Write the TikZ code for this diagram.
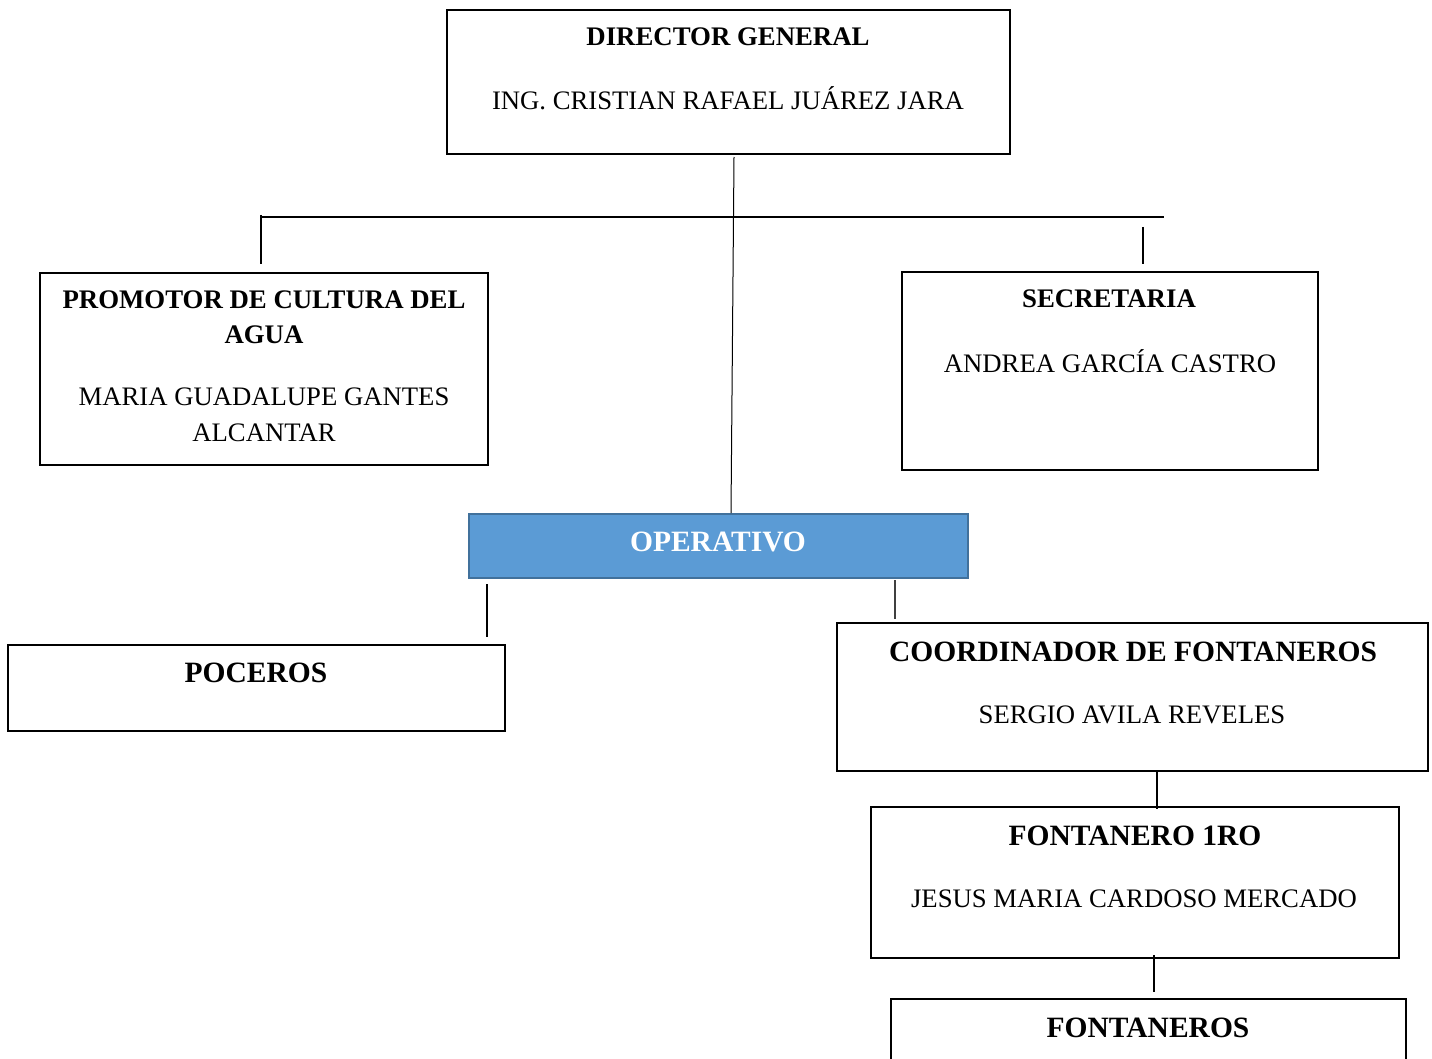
\documentclass[tikz,border=0pt]{standalone}
\usepackage{fontspec}
\setmainfont{Liberation Serif}
\begin{document}
\begin{tikzpicture}[x=1pt,y=-1pt,
  box/.style={draw=black, line width=1.8pt, rectangle, inner sep=0pt},
  opbox/.style={draw=opborder, fill=opfill, line width=2pt, rectangle, inner sep=0pt},
  conn/.style={draw=black, line width=1.6pt},
  ttl/.style={font=\bfseries\fontsize{26.8}{32}\selectfont, inner sep=0pt, align=center},
  bigttl/.style={font=\bfseries\fontsize{29.5}{35}\selectfont, inner sep=0pt, align=center},
  nm/.style={font=\fontsize{26.7}{35}\selectfont, inner sep=0pt, align=center}]
\definecolor{opfill}{HTML}{5B9BD5}
\definecolor{opborder}{HTML}{41719C}
\useasboundingbox (0,0) rectangle (1432,1059);
\clip (0,0) rectangle (1432,1059);

% boxes
\node[box, minimum width=563pt, minimum height=144pt] (dir) at (728.5,82) {};
\node[box, minimum width=448pt, minimum height=192pt] (prom) at (264,369) {};
\node[box, minimum width=416pt, minimum height=198pt] (sec) at (1110,371) {};
\node[opbox, minimum width=499pt, minimum height=64pt] (op) at (718.5,546) {};
\node[box, minimum width=497pt, minimum height=86pt] (poc) at (256.5,688) {};
\node[box, minimum width=591pt, minimum height=148pt] (coord) at (1132.5,697) {};
\node[box, minimum width=528pt, minimum height=151pt] (f1) at (1135,882.5) {};
\draw[line width=1.8pt] (891,1065) -- (891,999) -- (1406,999) -- (1406,1065);
\coordinate (fonttop) at (1148.5,999);

% texts
\node[ttl] (tdir) at (728,37) {DIRECTOR GENERAL};
\node[nm] (ndir) at (728,98) {ING. CRISTIAN RAFAEL JUÁREZ JARA};
\node[ttl] (tprom) at (264,300) {PROMOTOR DE CULTURA DEL};
\node[ttl] (tprom2) at (264,335) {AGUA};
\node[nm] (nprom) at (264,397) {MARIA GUADALUPE GANTES};
\node[nm] (nprom2) at (264,433) {ALCANTAR};
\node[ttl] (tsec) at (1109,299) {SECRETARIA};
\node[nm] (nsec) at (1110,361) {ANDREA GARCÍA CASTRO};
\node[bigttl, text=white] (top) at (718,542) {OPERATIVO};
\node[bigttl] (tpoc) at (256,673) {POCEROS};
\node[bigttl] (tcoord) at (1133,652) {COORDINADOR DE FONTANEROS};
\node[nm] (ncoord) at (1132,715) {SERGIO AVILA REVELES};
\node[bigttl] (tf1) at (1135,836) {FONTANERO 1RO};
\node[nm] (nf1) at (1134,899) {JESUS MARIA CARDOSO MERCADO};
\node[bigttl] (tfont) at (1148,1028) {FONTANEROS};

% connector coordinates
\coordinate (dirout) at (734,157);
\coordinate (opin) at (731,513);
\coordinate (hl) at (260,217);
\coordinate (hr) at (1164,217);
\coordinate (lt) at (261,215);
\coordinate (lb) at (261,264);
\coordinate (rt) at (1143,227);
\coordinate (rb) at (1143,264);
\coordinate (oplt) at (487,584);
\coordinate (oplb) at (487,637);
\coordinate (oprt) at (895,580);
\coordinate (oprb) at (895,619);
\coordinate (ct) at (1157,771);
\coordinate (cb) at (1157,809);
\coordinate (ft) at (1154,955);
\coordinate (fb) at (1154,992);

\draw[line width=1pt] (dirout) -- (opin);
\draw[conn] (hl) -- (hr);
\draw[conn] (lt) -- (lb);
\draw[conn] (rt) -- (rb);
\draw[line width=1.2pt] (oplt) -- (oplb);
\draw[line width=1.2pt, draw=black!75] (oprt) -- (oprb);
\draw[conn] (ct) -- (cb);
\draw[conn] (ft) -- (fb);
\end{tikzpicture}
\end{document}
